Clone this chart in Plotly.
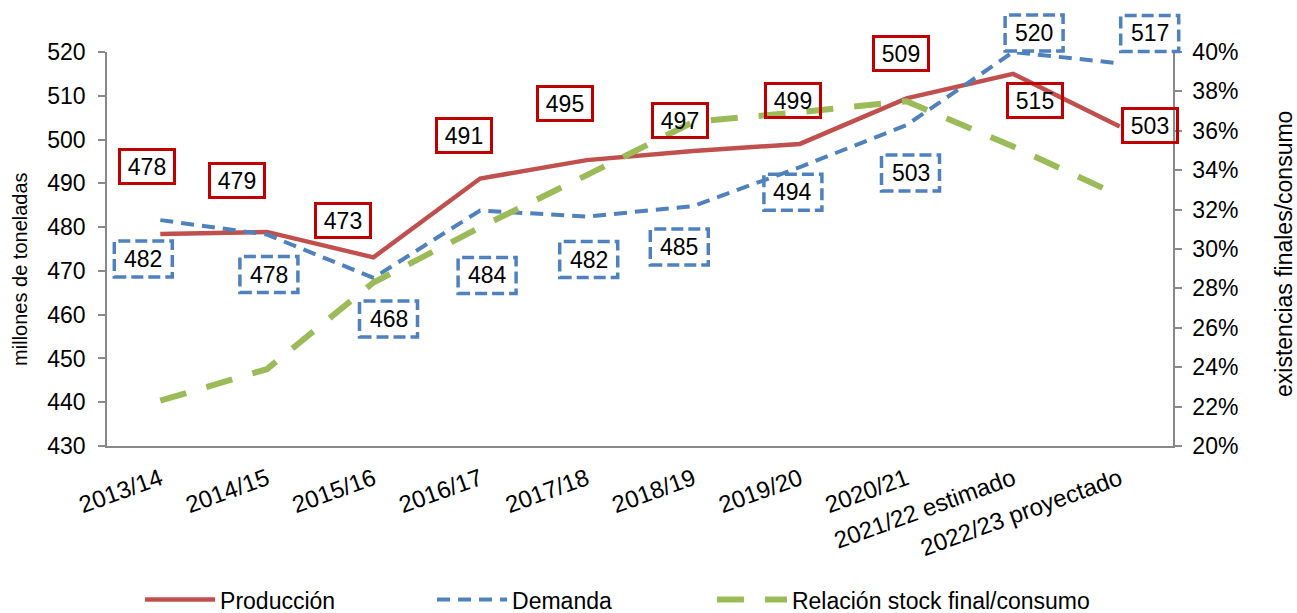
import plotly.graph_objects as go

# ---------------- data ----------------
categories = ["2013/14", "2014/15", "2015/16", "2016/17", "2017/18", "2018/19",
              "2019/20", "2020/21", "2021/22 estimado", "2022/23 proyectado"]
produccion = [478.4, 478.9, 473.1, 491.1, 495.3, 497.4, 499.0, 509.4, 515.0, 503.0]
demanda = [481.6, 478.3, 468.4, 483.8, 482.4, 484.8, 493.7, 503.3, 520.0, 517.4]
ratio = [0.223, 0.239, 0.283, 0.311, 0.3375, 0.3645, 0.3695, 0.375, 0.352, 0.327]

# axis ranges
Y_RANGE = [430, 520]
Y2_RANGE = [0.20, 0.40]

# label offsets in pixels (dx right, dy down) relative to each point
prod_label_offsets = [(-13, -68), (-30, -51), (-31, -37), (-16, -43), (-22, -57),
                      (-13, -30), (-7, -43), (-6, -45), (22, 27), (30, -1)]
dem_label_offsets = [(-17, 39), (2, 40), (15, 41), (7, 65), (2, 43),
                     (-14, 41), (-7, 25), (4, 48), (21, -19), (30, -30)]

RED = "#C0504D"
BLUE = "#4F81BD"
GREEN = "#9BBB59"
BOXRED = "#C00000"
AXIS = "#898989"
FONT = "Liberation Sans, Arial, sans-serif"

fig = go.Figure()
fig.add_trace(go.Scatter(x=categories, y=produccion, name="Producción", mode="lines",
                         line=dict(color=RED, width=4.5), legend="legend"))
fig.add_trace(go.Scatter(x=categories, y=demanda, name="Demanda", mode="lines",
                         line=dict(color=BLUE, width=4, dash="13px,8px"), legend="legend"))
fig.add_trace(go.Scatter(x=categories, y=ratio, name="Relación stock final/consumo", mode="lines",
                         line=dict(color=GREEN, width=6, dash="27px,21px"), yaxis="y2",
                         legend="legend2"))

annotations = []
shapes = []
for c, v, (dx, dy) in zip(categories, produccion, prod_label_offsets):
    annotations.append(dict(x=c, y=v, xref="x", yref="y", text=f"{round(v)}", showarrow=False,
                            xshift=dx, yshift=-dy, font=dict(size=23, color="black", family=FONT),
                            bordercolor=BOXRED, borderwidth=3, borderpad=3, width=46, height=25,
                            align="center", valign="middle"))
n = len(categories)
for i, (c, v, (dx, dy)) in enumerate(zip(categories, demanda, dem_label_offsets)):
    annotations.append(dict(x=c, y=v, xref="x", yref="y", text=f"{round(v)}", showarrow=False,
                            xshift=dx, yshift=-dy, font=dict(size=23, color="black", family=FONT)))
    # dashed frame around the label (domain refs so it is not clipped at the plot edge)
    shapes.append(dict(type="rect", xref="x domain", yref="y domain",
                       xsizemode="pixel", ysizemode="pixel",
                       xanchor=(i + 0.5) / n,
                       yanchor=(v - Y_RANGE[0]) / (Y_RANGE[1] - Y_RANGE[0]),
                       x0=dx - 29, x1=dx + 29, y0=-dy - 18, y1=-dy + 18,
                       line=dict(color=BLUE, width=3.5, dash="12px,5px"), layer="above"))

annotations.append(dict(xref="paper", yref="paper", x=-0.0816, y=0.447, text="millones de toneladas",
                        textangle=-90, showarrow=False, xanchor="center", yanchor="middle",
                        font=dict(size=20, color="black", family=FONT)))
annotations.append(dict(xref="paper", yref="paper", x=1.104, y=0.487, text="existencias finales/consumo",
                        textangle=-90, showarrow=False, xanchor="center", yanchor="middle",
                        font=dict(size=23, color="black", family=FONT)))

legend_common = dict(orientation="h", y=-0.39, yanchor="middle", xanchor="left",
                     font=dict(size=23), itemwidth=70, bgcolor="rgba(0,0,0,0)")

fig.update_layout(
    width=1297, height=613,
    margin=dict(l=107, r=124, t=52, b=167, autoexpand=False),
    paper_bgcolor="white", plot_bgcolor="white",
    font=dict(family=FONT, size=23, color="black"),
    showlegend=True,
    legend=dict(x=0.031, entrywidth=207, entrywidthmode="pixels", **legend_common),
    legend2=dict(x=0.5675, **legend_common),
    xaxis=dict(type="category", range=[-0.5, n - 0.5], showline=True, linecolor=AXIS, linewidth=1.5,
               ticks="", tickangle=-20, tickfont=dict(size=24), showgrid=False, zeroline=False,
               ticklabelstandoff=8),
    yaxis=dict(range=Y_RANGE, dtick=10, showline=True, linecolor=AXIS, linewidth=1.5,
               ticks="outside", ticklen=7, tickcolor=AXIS, tickwidth=1.5, showgrid=False,
               zeroline=False, tickfont=dict(size=23), ticklabelstandoff=8),
    yaxis2=dict(range=Y2_RANGE, dtick=0.02, tickformat=".0%", overlaying="y", side="right",
                showline=True, linecolor=AXIS, linewidth=1.5, ticks="outside", ticklen=7,
                tickcolor=AXIS, tickwidth=1.5, showgrid=False, zeroline=False,
                tickfont=dict(size=23), ticklabelstandoff=6),
    annotations=annotations,
    shapes=shapes,
)

fig.write_html("out.html", config={"displayModeBar": False},
               post_script="document.body.style.margin='0';document.body.style.overflow='hidden';")
